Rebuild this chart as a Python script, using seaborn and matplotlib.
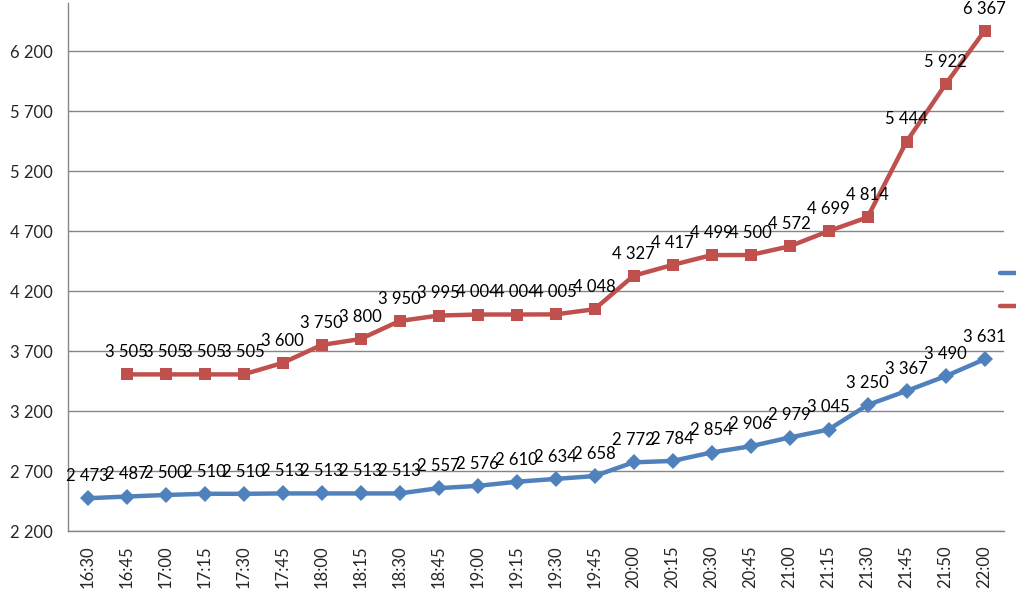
import numpy as np
import pandas as pd
import matplotlib
matplotlib.use("Agg")
import matplotlib.pyplot as plt
from matplotlib.ticker import FuncFormatter, FixedLocator
import seaborn as sns

times = ["16:30", "16:45", "17:00", "17:15", "17:30", "17:45", "18:00", "18:15",
         "18:30", "18:45", "19:00", "19:15", "19:30", "19:45", "20:00", "20:15",
         "20:30", "20:45", "21:00", "21:15", "21:30", "21:45", "21:50", "22:00"]
blue_vals = [2473, 2487, 2500, 2510, 2510, 2513, 2513, 2513, 2513, 2557, 2576, 2610,
             2634, 2658, 2772, 2784, 2854, 2906, 2979, 3045, 3250, 3367, 3490, 3631]
red_vals = [np.nan, 3505, 3505, 3505, 3505, 3600, 3750, 3800, 3950, 3995, 4004, 4004,
            4005, 4048, 4327, 4417, 4499, 4500, 4572, 4699, 4814, 5444, 5922, 6367]
y_ticks = [2200, 2700, 3200, 3700, 4200, 4700, 5200, 5700, 6200]

sns.set_style("white")
plt.rcParams['font.family'] = ['Lato', 'DejaVu Sans']

BLUE = "#4F81BD"
RED = "#C0504D"
GRID = "#868686"
FS = 12

fig = plt.figure(figsize=(10.16, 5.9), dpi=100)
ax = fig.add_axes([68 / 1016, 1 - 531 / 590, 936 / 1016, 528 / 590])

pos = np.arange(len(times))
df = pd.DataFrame({"pos": pos, "blue": blue_vals, "red": red_vals})

sns.lineplot(data=df, x="pos", y="blue", ax=ax, color=BLUE, lw=3.2,
             marker="D", markersize=8, markeredgewidth=0, label="Ряд1")
red_df = df.dropna(subset=["red"])
sns.lineplot(data=red_df, x="pos", y="red", ax=ax, color=RED, lw=3.2,
             marker="s", markersize=9, markeredgewidth=0, label="Ряд2")


def fmt(v):
    return f"{v:,.0f}".replace(",", " ")


# data labels above every point
for x, v in zip(pos, blue_vals):
    ax.annotate(fmt(v), (x, v), xytext=(0, 16), textcoords="offset points",
                ha="center", va="center", fontsize=FS, color="black")
for x, v in zip(pos, red_vals):
    if np.isnan(v):
        continue
    ax.annotate(fmt(v), (x, v), xytext=(0, 16), textcoords="offset points",
                ha="center", va="center", fontsize=FS, color="black",
                annotation_clip=False)

ax.set_xlim(-0.5, len(times) - 0.5)
ax.set_ylim(2200, 6600)
ax.set_yticks(y_ticks)
ax.yaxis.set_major_formatter(FuncFormatter(lambda v, p: fmt(v)))
ax.set_xticks(pos)
ax.set_xticklabels(times, rotation=90)
ax.xaxis.set_minor_locator(FixedLocator(np.arange(-0.5, len(times), 1.0)))
ax.tick_params(axis="x", which="major", length=0, pad=10, labelsize=FS)
ax.tick_params(axis="x", which="minor", length=5, color=GRID, width=1, direction="out")
ax.tick_params(axis="y", length=5, color=GRID, width=1, direction="out", pad=6,
               labelsize=FS)
ax.grid(axis="y", color=GRID, lw=1)
ax.set_axisbelow(True)
ax.set_xlabel("")
ax.set_ylabel("")
for side in ["top", "right"]:
    ax.spines[side].set_visible(False)
for side in ["left", "bottom"]:
    ax.spines[side].set_color(GRID)
    ax.spines[side].set_linewidth(1)

# legend sits mostly outside the figure, as in the original
handles, labels = ax.get_legend_handles_labels()
ax.get_legend().remove()
fig.legend(handles, labels, loc="center left", bbox_to_anchor=(1000 / 1016, 1 - 290 / 590),
           frameon=False, borderpad=0, borderaxespad=0, handlelength=3.0,
           labelspacing=1.0, fontsize=FS)

fig.savefig("out.png", dpi=100)
